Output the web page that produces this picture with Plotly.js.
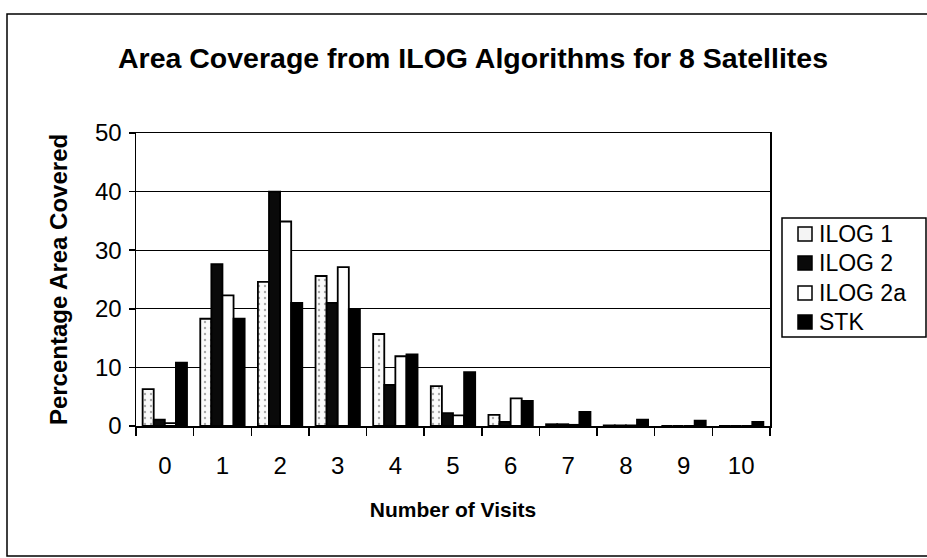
<!DOCTYPE html>
<html>
<head>
<meta charset="utf-8">
<script src="https://cdn.plot.ly/plotly-3.0.1.min.js"></script>
<style>html,body{margin:0;padding:0;background:#fff;}#chart{width:927px;height:558px;}</style>
</head>
<body>
<div id="chart"></div>
<script>
const categories = ["0","1","2","3","4","5","6","7","8","9","10"];
const ilog1  = [6.3, 18.3, 24.6, 25.6, 15.7, 6.8, 1.9, 0.3, 0.1, 0.0, 0.0];
const ilog2  = [1.1, 27.6, 40.0, 21.0, 7.0, 2.2, 0.7, 0.3, 0.1, 0.0, 0.0];
const ilog2a = [0.5, 22.3, 34.9, 27.1, 11.9, 1.8, 4.7, 0.2, 0.1, 0.0, 0.0];
const stk    = [10.8, 18.3, 21.0, 19.9, 12.2, 9.2, 4.3, 2.4, 1.1, 0.9, 0.7];
const seriesNames = ["ILOG 1", "ILOG 2", "ILOG 2a", "STK"];
const seriesFill = ["#f4f4f4", "#0a0a0a", "#ffffff", "#000000"];

const FONT = "Liberation Sans, Arial, sans-serif";
const line = {color: "#000", width: 1.8};

const traces = [
  {type: "bar", name: seriesNames[0], x: categories, y: ilog1,
   marker: {color: seriesFill[0], line: line,
            pattern: {shape: ".", fgcolor: "#a8a8a8", bgcolor: "#fafafa", size: 6, solidity: 0.12}}},
  {type: "bar", name: seriesNames[1], x: categories, y: ilog2,
   marker: {color: seriesFill[1], line: line}},
  {type: "bar", name: seriesNames[2], x: categories, y: ilog2a,
   marker: {color: seriesFill[2], line: line}},
  {type: "bar", name: seriesNames[3], x: categories, y: stk,
   marker: {color: seriesFill[3], line: line}}
];

const L = 136, R = 770, T = 133, B = 426, W = 927, H = 558;
const pw = R - L, ph = B - T;
const px = v => (v - L) / pw;
const py = v => (B - v) / ph;

// Legend drawn as a box with swatches and text labels
const legendShapes = [
  {type: "rect", xref: "paper", yref: "paper", x0: px(782), x1: px(926), y0: py(337), y1: py(218),
   line: {color: "#000", width: 1.5}, fillcolor: "#fff", layer: "above"}
];
const legendAnn = [];
const rowY = [234, 263, 293, 322];
seriesNames.forEach((n, i) => {
  legendShapes.push({type: "rect", xref: "paper", yref: "paper",
    x0: px(798), x1: px(812), y0: py(rowY[i] + 7), y1: py(rowY[i] - 7),
    line: {color: "#000", width: 1.5}, fillcolor: seriesFill[i], layer: "above"});
  legendAnn.push({xref: "paper", yref: "paper", x: px(817), y: py(rowY[i]), xanchor: "left", yanchor: "middle",
    text: n, showarrow: false, font: {family: FONT, size: 23, color: "#000"}});
});

const layout = {
  width: W, height: H,
  margin: {l: L, r: W - R, t: T, b: H - B, pad: 0},
  paper_bgcolor: "#fff", plot_bgcolor: "#fff",
  font: {family: FONT, color: "#000", size: 20},
  barmode: "group", bargap: 0.23, bargroupgap: 0,
  showlegend: false,
  title: {text: "<b>Area Coverage from ILOG Algorithms for 8 Satellites</b>",
          font: {family: FONT, size: 28.5, color: "#000"},
          x: 473/927, xanchor: "center", y: 1 - 58/558, yanchor: "middle", xref: "container", yref: "container"},
  xaxis: {type: "category", tickson: "boundaries", ticks: "outside", ticklen: 8, tickcolor: "#000", tickwidth: 1.5,
          showline: true, linecolor: "#000", linewidth: 1.5, mirror: true, showgrid: false,
          tickfont: {family: FONT, size: 24}, ticklabelstandoff: 18, automargin: false,
          title: {text: "<b>Number of Visits</b>", font: {family: FONT, size: 21}, standoff: 24}},
  yaxis: {range: [0, 50], dtick: 10, ticks: "outside", ticklen: 6, tickcolor: "#000", tickwidth: 1.5,
          showline: true, linecolor: "#000", linewidth: 1.5, mirror: true,
          showgrid: true, gridcolor: "#000", gridwidth: 1, zeroline: false,
          tickfont: {family: FONT, size: 24}, ticklabelstandoff: 2, automargin: false,
          title: {text: "<b>Percentage Area Covered</b>", font: {family: FONT, size: 24}, standoff: 20}},
  annotations: legendAnn,
  shapes: [
    {type: "rect", xref: "paper", yref: "paper", x0: px(7), x1: px(935), y0: py(556), y1: py(14),
     line: {color: "#000", width: 1.5}, fillcolor: "rgba(0,0,0,0)", layer: "below"}
  ].concat(legendShapes)
};

Plotly.newPlot("chart", traces, layout, {displayModeBar: false, staticPlot: true});
</script>
</body>
</html>
